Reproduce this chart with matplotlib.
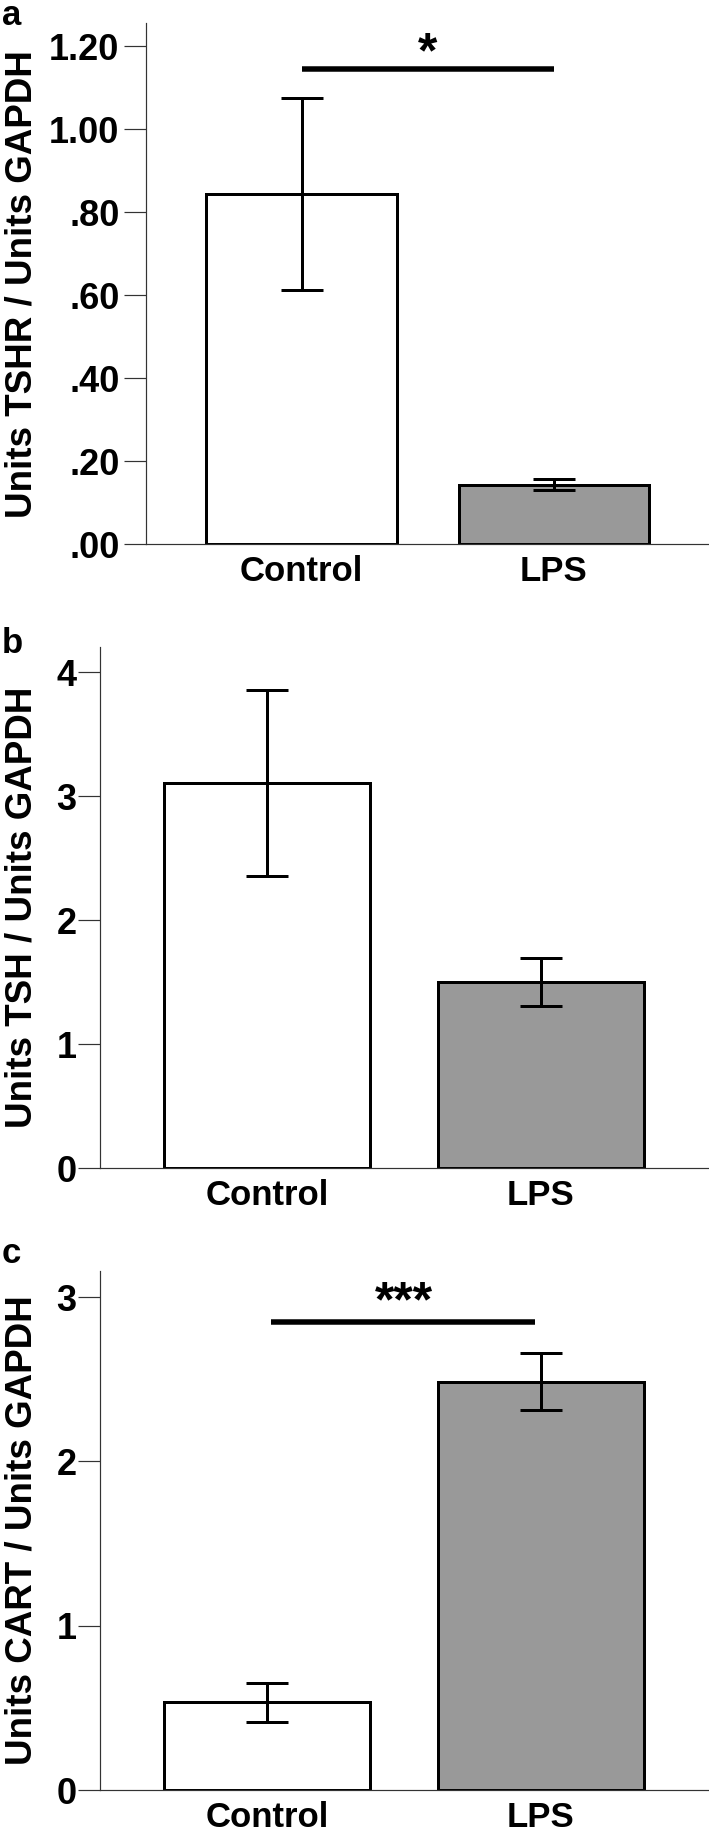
import matplotlib
matplotlib.use('Agg')
import matplotlib.pyplot as plt
from matplotlib import font_manager

groups = ['Control', 'LPS']

tshr_mean = [0.843, 0.143]
tshr_err = [0.231, 0.014]
tshr_ticks = [0.0, 0.2, 0.4, 0.6, 0.8, 1.0, 1.2]
tshr_ticklabels = ['.00', '.20', '.40', '.60', '.80', '1.00', '1.20']

tsh_mean = [3.105, 1.50]
tsh_err = [0.75, 0.195]
tsh_ticks = [0, 1, 2, 3, 4]

cart_mean = [0.535, 2.485]
cart_err = [0.12, 0.172]
cart_ticks = [0, 1, 2, 3]

bar_colors = ['white', '#999999']

W, H = 709, 1832
px = 72 / 100  # points per pixel at dpi 100

names = {f.name for f in font_manager.fontManager.ttflist}
narrow = 'Liberation Sans Narrow' if 'Liberation Sans Narrow' in names else 'Liberation Sans'
plt.rcParams['font.family'] = ['Liberation Sans', 'DejaVu Sans']
plt.rcParams['font.weight'] = 'bold'

fig = plt.figure(figsize=(W / 100, H / 100), dpi=100)


def panel(rect, means, errs, ticks, ticklabels, ylim, xlim, width, ylabel, tick_pad):
    left, top, right, bottom = rect
    ax = fig.add_axes([left / W, 1 - bottom / H, (right - left) / W, (bottom - top) / H])
    x = [0, 1]
    ax.bar(x, means, width=width, color=bar_colors, edgecolor='black',
           linewidth=3 * px, zorder=2)
    ax.errorbar(x, means, yerr=errs, fmt='none', ecolor='black',
                elinewidth=3 * px, capsize=21.5 * px, capthick=3 * px, zorder=3)
    ax.set_xlim(*xlim)
    ax.set_ylim(*ylim)
    for s in ['top', 'right']:
        ax.spines[s].set_visible(False)
    for s in ['left', 'bottom']:
        ax.spines[s].set_linewidth(1.2 * px)
        ax.spines[s].set_color('#333333')
    ax.set_yticks(ticks)
    ax.set_yticklabels(ticklabels if ticklabels else [str(t) for t in ticks],
                       family=narrow, fontsize=26, fontweight='bold')
    ax.tick_params(axis='y', length=22 * px, width=1.2 * px, color='#333333',
                   direction='out', pad=tick_pad)
    ax.set_xticks(x)
    ax.set_xticklabels(groups, fontsize=25, fontweight='bold')
    ax.tick_params(axis='x', length=0, pad=8)
    yc = 1 - (top + bottom) / 2 / H
    fig.text(32 / W, yc, ylabel, rotation=90, rotation_mode='anchor',
             ha='center', va='baseline', fontsize=26.5, fontweight='bold')
    return ax


ax_a = panel((146, 23.3, 709, 544), tshr_mean, tshr_err, tshr_ticks, tshr_ticklabels,
             (0, 1.255), (-0.616, 1.614), 0.753, 'Units TSHR / Units GAPDH', 3.2)
ax_b = panel((100, 647.3, 709, 1168), tsh_mean, tsh_err, tsh_ticks, None,
             (0, 4.2), (-0.609, 1.613), 0.752, 'Units TSH / Units GAPDH', 1)
ax_c = panel((100, 1270.7, 709, 1790.3), cart_mean, cart_err, cart_ticks, None,
             (0, 3.16), (-0.609, 1.613), 0.752, 'Units CART / Units GAPDH', 1)

# significance bars
ax_a.plot([0, 1], [1.145, 1.145], color='black', linewidth=5.5 * px,
          solid_capstyle='butt', zorder=3)
ax_a.text(0.5, 1.15, '*', ha='center', va='baseline', fontsize=36, fontweight='bold')
ax_c.plot([0.015, 0.978], [2.85, 2.85], color='black', linewidth=5.5 * px,
          solid_capstyle='butt', zorder=3)
ax_c.text(0.5, 2.88, '***', ha='center', va='baseline', fontsize=36, fontweight='bold')

# panel letters
for letter, base in [('a', 25), ('b', 653), ('c', 1263)]:
    fig.text(2 / W, 1 - base / H, letter, ha='left', va='baseline',
             fontsize=25, fontweight='bold')

fig.savefig('out.png', dpi=100)
